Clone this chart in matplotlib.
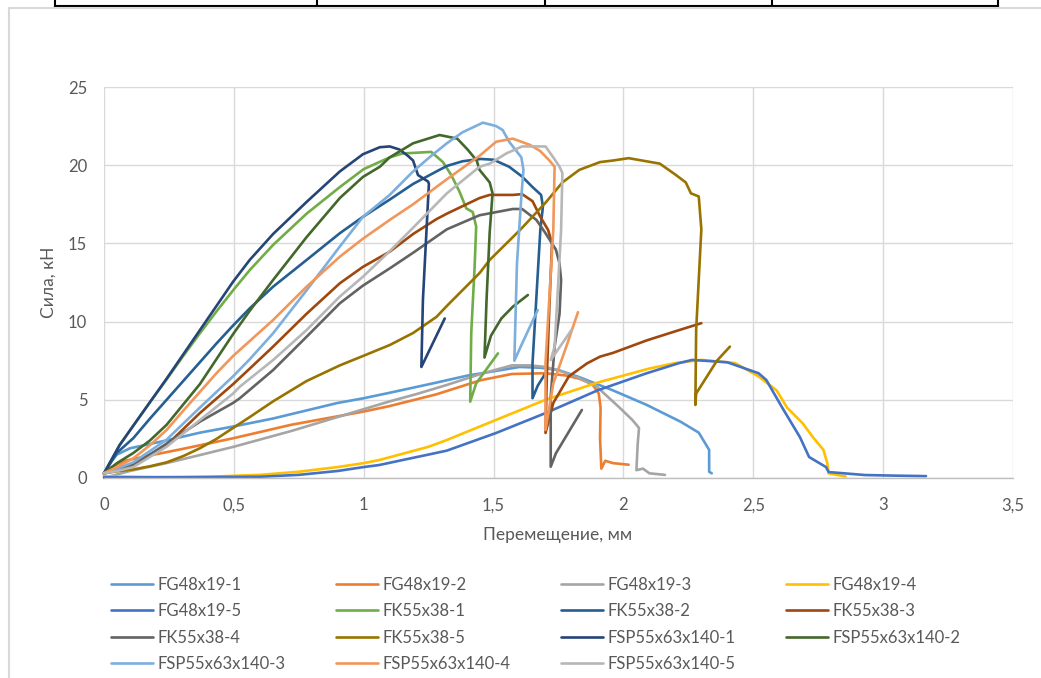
import matplotlib
matplotlib.use("Agg")
import matplotlib.pyplot as plt
from matplotlib.lines import Line2D
from matplotlib.ticker import FuncFormatter
import numpy as np

plt.rcParams['font.family'] = ['Lato', 'DejaVu Sans']

W, H = 1041, 678

# --- data (displacement in mm, force in kN) ---
fg48x19_1_x = [0, 0.02, 0.05, 0.1, 0.24, 0.37, 0.5, 0.65, 0.8, 0.9, 1.0, 1.1, 1.28, 1.4, 1.51, 1.6, 1.68,
               1.75, 1.83, 1.96, 2.09, 2.22, 2.29, 2.33, 2.33, 2.34]
fg48x19_1_y = [0.2, 0.9, 1.5, 1.9, 2.4, 2.9, 3.3, 3.8, 4.4, 4.8, 5.1, 5.45, 6.1, 6.55, 6.85, 7.1, 7.05,
               6.9, 6.45, 5.6, 4.67, 3.6, 2.9, 1.8, 0.4, 0.3]

fg48x19_2_x = [0, 0.03, 0.08, 0.18, 0.3, 0.5, 0.72, 1.0, 1.1, 1.28, 1.45, 1.57, 1.7, 1.78, 1.83, 1.88,
               1.905, 1.912, 1.91, 1.915, 1.93, 1.96, 2.02]
fg48x19_2_y = [0.2, 0.7, 1.1, 1.45, 1.85, 2.55, 3.4, 4.25, 4.6, 5.35, 6.25, 6.65, 6.7, 6.55, 6.35, 6.0,
               5.4, 4.5, 2.5, 0.6, 1.1, 0.95, 0.85]

fg48x19_3_x = [0, 0.1, 0.24, 0.37, 0.5, 0.72, 1.0, 1.1, 1.2, 1.32, 1.45, 1.57, 1.64, 1.7, 1.765, 1.83,
               1.9, 1.985, 2.035, 2.06, 2.055, 2.05, 2.075, 2.1, 2.16]
fg48x19_3_y = [0, 0.45, 0.95, 1.47, 2.0, 3.0, 4.4, 4.9, 5.35, 5.95, 6.65, 7.2, 7.2, 7.1, 6.8, 6.4,
               5.8, 4.5, 3.7, 3.2, 2.2, 0.5, 0.6, 0.3, 0.2]

fg48x19_4_x = [0, 0.2, 0.4, 0.6, 0.75, 0.9, 1.0, 1.06, 1.15, 1.25, 1.32, 1.5, 1.7, 1.9, 2.1, 2.2, 2.3,
               2.43, 2.52, 2.59, 2.63, 2.69, 2.73, 2.77, 2.785, 2.79, 2.82, 2.855]
fg48x19_4_y = [0.1, 0.05, 0.08, 0.2, 0.4, 0.7, 0.95, 1.15, 1.55, 2.0, 2.43, 3.65, 5.0, 6.1, 7.0, 7.35, 7.55,
               7.35, 6.5, 5.6, 4.5, 3.5, 2.6, 1.8, 0.95, 0.3, 0.2, 0.1]

fg48x19_5_x = [0, 0.3, 0.6, 0.75, 0.9, 1.0, 1.06, 1.15, 1.25, 1.32, 1.51, 1.7, 1.9, 2.09, 2.215, 2.265,
               2.4, 2.52, 2.55, 2.61, 2.68, 2.715, 2.78, 2.79, 2.93, 3.05, 3.165]
fg48x19_5_y = [0.05, 0.05, 0.08, 0.2, 0.45, 0.7, 0.83, 1.15, 1.5, 1.75, 2.88, 4.15, 5.6, 6.7, 7.35, 7.55,
               7.4, 6.7, 6.27, 4.54, 2.6, 1.34, 0.7, 0.38, 0.19, 0.15, 0.12]

fk55x38_1_x = [0, 0.023, 0.06, 0.113, 0.177, 0.241, 0.305, 0.369, 0.433, 0.497, 0.5615, 0.651,
               0.78, 0.908, 1.0, 1.1, 1.15, 1.26, 1.305, 1.337, 1.369, 1.395, 1.42, 1.433, 1.427, 1.414,
               1.41, 1.433, 1.517]
fk55x38_1_y = [0.3, 0.95, 2.1, 3.35, 4.85, 6.3, 7.8, 9.25, 10.65, 12.0, 13.3, 14.9,
               16.9, 18.6, 19.75, 20.5, 20.75, 20.85, 20.2, 19.37, 18.3, 17.24, 17.0, 16.07, 13.5, 9.25,
               4.88, 6.05, 7.97]

fk55x38_2_x = [0, 0.023, 0.049, 0.113, 0.177, 0.241, 0.305, 0.369, 0.433, 0.497, 0.5615, 0.651,
               0.78, 0.908, 0.997, 1.1, 1.19, 1.28, 1.32, 1.38, 1.45, 1.5, 1.56, 1.61, 1.65, 1.683, 1.69,
               1.68, 1.665, 1.65, 1.65, 1.67, 1.70]
fk55x38_2_y = [0.3, 0.9, 1.6, 2.55, 3.8, 5.0, 6.2, 7.4, 8.6, 9.75, 10.85, 12.23,
               13.94, 15.65, 16.7, 17.8, 18.8, 19.6, 19.95, 20.25, 20.4, 20.35, 19.9, 19.27, 18.6, 18.1, 17.35,
               15.86, 11.6, 7.35, 5.1, 5.9, 6.7]

fk55x38_3_x = [0, 0.05, 0.113, 0.241, 0.369, 0.497, 0.5615, 0.651, 0.78, 0.908, 0.997, 1.1, 1.19,
               1.28, 1.32, 1.446, 1.485, 1.574, 1.61, 1.65, 1.68, 1.71, 1.725, 1.715, 1.705, 1.70, 1.73,
               1.79, 1.86, 1.91, 1.96, 2.09, 2.215, 2.30]
fk55x38_3_y = [0.3, 0.6, 0.9, 2.1, 4.15, 6.0, 7.0, 8.4, 10.5, 12.45, 13.5, 14.47, 15.6,
               16.55, 16.9, 17.9, 18.1, 18.1, 18.15, 17.7, 16.7, 15.86, 15.0, 11.0, 6.5, 2.88, 4.8,
               6.5, 7.33, 7.76, 8.0, 8.8, 9.46, 9.9]

fk55x38_4_x = [0, 0.05, 0.113, 0.241, 0.369, 0.497, 0.523, 0.651, 0.78, 0.908, 0.997, 1.1, 1.19, 1.32,
               1.446, 1.574, 1.61, 1.665, 1.70, 1.74, 1.754, 1.76, 1.754, 1.735, 1.72, 1.72, 1.74, 1.84]
fk55x38_4_y = [0.3, 0.5, 0.8, 2.2, 3.6, 4.8, 5.1, 6.9, 9.03, 11.17, 12.3, 13.4, 14.4, 15.9,
               16.8, 17.2, 17.2, 16.5, 15.65, 14.6, 13.7, 12.66, 10.5, 8.4, 5.2, 0.72, 1.58, 4.35]

fk55x38_5_x = [0, 0.049, 0.113, 0.177, 0.241, 0.305, 0.369, 0.433, 0.497, 0.5615, 0.651, 0.78, 0.908,
               0.997, 1.1, 1.19, 1.28, 1.32, 1.446, 1.485, 1.574, 1.61, 1.70, 1.74, 1.765, 1.83, 1.91,
               1.96, 2.02, 2.14, 2.2, 2.24, 2.26, 2.29, 2.30, 2.28, 2.277, 2.28, 2.36, 2.41]
fk55x38_5_y = [0.3, 0.43, 0.55, 0.75, 1.0, 1.4, 1.9, 2.5, 3.2, 3.9, 4.9, 6.2, 7.2,
               7.8, 8.5, 9.27, 10.3, 11.0, 13.1, 13.94, 15.4, 16.0, 17.6, 18.4, 18.9, 19.7, 20.2,
               20.3, 20.45, 20.1, 19.4, 18.9, 18.2, 18.0, 15.9, 9.46, 4.67, 5.4, 7.5, 8.4]

fsp55x63x140_1_x = [0, 0.023, 0.06, 0.113, 0.177, 0.241, 0.305, 0.369, 0.433, 0.497, 0.5615, 0.651,
                    0.78, 0.908, 0.997, 1.062, 1.1, 1.138, 1.17, 1.19, 1.209, 1.248, 1.251, 1.241, 1.228,
                    1.222, 1.312]
fsp55x63x140_1_y = [0.3, 1.0, 2.1, 3.35, 4.85, 6.35, 7.9, 9.45, 11.0, 12.55, 13.95, 15.6,
                    17.65, 19.6, 20.7, 21.15, 21.2, 21.0, 20.6, 20.3, 19.37, 18.95, 18.8, 15.6, 11.4,
                    7.1, 10.2]

fsp55x63x140_2_x = [0, 0.049, 0.113, 0.177, 0.241, 0.305, 0.369, 0.433, 0.497, 0.5615, 0.651, 0.78,
                    0.908, 0.997, 1.062, 1.1, 1.19, 1.292, 1.36, 1.40, 1.435, 1.446, 1.485, 1.496, 1.485,
                    1.473, 1.465, 1.49, 1.53, 1.574, 1.632]
fsp55x63x140_2_y = [0.3, 0.94, 1.6, 2.4, 3.4, 4.7, 6.0, 7.6, 9.2, 10.7, 12.66, 15.4,
                    17.9, 19.25, 19.9, 20.5, 21.4, 21.93, 21.7, 21.0, 20.3, 19.7, 18.9, 18.2, 15.7,
                    11.4, 7.7, 9.1, 10.2, 10.95, 11.7]

fsp55x63x140_3_x = [0, 0.05, 0.113, 0.241, 0.369, 0.497, 0.5615, 0.651, 0.78, 0.908, 0.997, 1.1,
                    1.19, 1.26, 1.32, 1.38, 1.459, 1.51, 1.535, 1.56, 1.607, 1.615, 1.607, 1.59, 1.58,
                    1.61, 1.67]
fsp55x63x140_3_y = [0.3, 0.6, 1.0, 2.45, 4.5, 6.5, 7.6, 9.25, 12.0, 14.8, 16.7, 18.1,
                    19.6, 20.6, 21.4, 22.1, 22.72, 22.5, 22.25, 21.5, 20.5, 19.7, 18.0, 13.7, 7.5,
                    8.6, 10.74]

fsp55x63x140_4_x = [0, 0.05, 0.113, 0.177, 0.241, 0.305, 0.369, 0.433, 0.497, 0.651, 0.78, 0.908,
                    0.997, 1.1, 1.19, 1.32, 1.446, 1.51, 1.574, 1.64, 1.68, 1.715, 1.735, 1.73, 1.715,
                    1.70, 1.70, 1.73, 1.78, 1.825]
fsp55x63x140_4_y = [0.3, 0.7, 1.26, 2.1, 3.07, 4.3, 5.5, 6.7, 7.8, 10.1, 12.23, 14.15,
                    15.3, 16.5, 17.5, 19.1, 20.6, 21.5, 21.7, 21.3, 20.9, 20.3, 19.9, 15.86, 11.6,
                    7.35, 3.07, 6.05, 8.4, 10.6]

fsp55x63x140_5_x = [0, 0.05, 0.113, 0.241, 0.369, 0.497, 0.523, 0.651, 0.78, 0.908, 0.997, 1.1, 1.19,
                    1.32, 1.446, 1.485, 1.55, 1.61, 1.70, 1.73, 1.754, 1.765, 1.76, 1.746, 1.735, 1.72,
                    1.80]
fsp55x63x140_5_y = [0.3, 0.45, 0.7, 2.0, 3.7, 5.4, 5.84, 7.54, 9.46, 11.6, 12.87, 14.5, 16.0,
                    18.2, 19.9, 20.1, 20.76, 21.2, 21.2, 20.5, 19.9, 19.5, 15.86, 11.6, 8.4, 7.54,
                    9.46]

labels = ["FG48x19-1", "FG48x19-2", "FG48x19-3", "FG48x19-4", "FG48x19-5",
          "FK55x38-1", "FK55x38-2", "FK55x38-3", "FK55x38-4", "FK55x38-5",
          "FSP55x63x140-1", "FSP55x63x140-2", "FSP55x63x140-3", "FSP55x63x140-4", "FSP55x63x140-5"]
colors = ["#5B9BD5", "#ED7D31", "#A5A5A5", "#FFC000", "#4472C4",
          "#70AD47", "#255E91", "#9E480E", "#636363", "#997300",
          "#264478", "#43682B", "#7CAFDD", "#F1975A", "#B7B7B7"]
xs = [fg48x19_1_x, fg48x19_2_x, fg48x19_3_x, fg48x19_4_x, fg48x19_5_x,
      fk55x38_1_x, fk55x38_2_x, fk55x38_3_x, fk55x38_4_x, fk55x38_5_x,
      fsp55x63x140_1_x, fsp55x63x140_2_x, fsp55x63x140_3_x, fsp55x63x140_4_x, fsp55x63x140_5_x]
ys = [fg48x19_1_y, fg48x19_2_y, fg48x19_3_y, fg48x19_4_y, fg48x19_5_y,
      fk55x38_1_y, fk55x38_2_y, fk55x38_3_y, fk55x38_4_y, fk55x38_5_y,
      fsp55x63x140_1_y, fsp55x63x140_2_y, fsp55x63x140_3_y, fsp55x63x140_4_y, fsp55x63x140_5_y]

TXT = "#595959"

fig = plt.figure(figsize=(W / 100, H / 100), dpi=100)


def fx(px):
    return px / W


def fy(py):
    return 1 - py / H


# bits of the surrounding page: table row above, chart frame
fig.add_artist(Line2D([fx(55), fx(998)], [fy(5.5), fy(5.5)], color="black", lw=1.5))
for vx in [55, 317, 545, 772, 998]:
    fig.add_artist(Line2D([fx(vx), fx(vx)], [fy(0), fy(5.5)], color="black", lw=1.5))
fig.add_artist(Line2D([fx(9), fx(9), fx(W)], [fy(H), fy(8), fy(8)], color="#D9D9D9", lw=1.5))

ax = fig.add_axes([fx(104), fy(478), (1013 - 104) / W, (478 - 87) / H])
handles = []
for x, y, c, lab in zip(xs, ys, colors, labels):
    h, = ax.plot(x, y, color=c, lw=1.9, label=lab, clip_on=False,
                 solid_joinstyle="round", solid_capstyle="round")
    handles.append(h)

ax.set_xlim(0, 3.5)
ax.set_ylim(0, 25)
ax.set_xticks(np.arange(0, 3.51, 0.5))
ax.set_yticks(range(0, 26, 5))
ax.xaxis.set_major_formatter(FuncFormatter(lambda v, p: f"{v:g}".replace(".", ",")))
ax.grid(True, color="#D9D9D9", lw=1.0)
ax.set_axisbelow(True)
for s in ["top", "right", "left"]:
    ax.spines[s].set_visible(False)
ax.spines["bottom"].set_color("#BFBFBF")
ax.spines["bottom"].set_linewidth(1.0)
ax.tick_params(length=0, labelsize=12, labelcolor=TXT)
ax.tick_params(axis="x", pad=14)
ax.tick_params(axis="y", pad=12)

fig.text(fx(558), fy(535), "Перемещение, мм", ha="center", va="center", fontsize=12.5, color=TXT)
fig.text(fx(49), fy(282), "Сила, кН", ha="center", va="center", rotation=90, fontsize=12.5, color=TXT)

# Excel fills the legend row by row, matplotlib column by column
order = [0, 4, 8, 12, 1, 5, 9, 13, 2, 6, 10, 14, 3, 7, 11]
fig.legend([handles[i] for i in order], [labels[i] for i in order],
           loc="upper left", bbox_to_anchor=(fx(111), fy(577)), ncol=4, frameon=False,
           fontsize=12, labelcolor=TXT, handlelength=2.5, handletextpad=0.3,
           columnspacing=3.02, labelspacing=0.62, borderpad=0, borderaxespad=0)

fig.savefig("out.png", dpi=100)
